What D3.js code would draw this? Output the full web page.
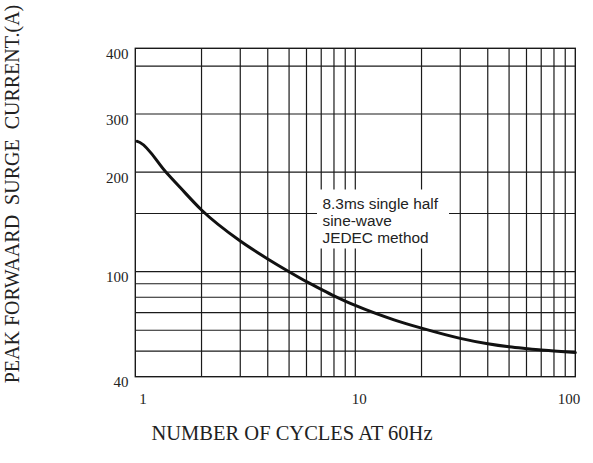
<!DOCTYPE html>
<html>
<head>
<meta charset="utf-8">
<script src="https://cdn.jsdelivr.net/npm/d3@7"></script>
<style>
  body { margin: 0; background: #fff; }
  svg { display: block; }
</style>
</head>
<body>
<div id="chart"></div>
<script>
// Curva de corriente de pico frente a numero de ciclos
const cycles  = [1.02, 1.05, 1.38, 1.6, 2, 3, 4, 5, 6, 7, 8, 9, 10, 15, 20, 30, 40, 50, 60, 70, 80, 100];
const current = [248, 246, 200, 179.7, 153.7, 123.8, 109.3, 100, 91.7, 85.7, 81, 77.4, 74.5, 65.7, 61.1, 55.9, 53.3, 51.9, 51.1, 50.5, 50.1, 49.4];

const xGrid = [2, 3, 4, 5, 6, 7, 8, 9, 10, 20, 30, 40, 50, 60, 70, 80, 90];
const xTicks = ['1', '10', '100'];
const yGrid = [50, 60, 70, 80, 90, 100, 150, 200, 300, 370];
const yTicks = ['400', '300', '200', '100', '40'];
const note = ['8.3ms single half', 'sine-wave', 'JEDEC method'];

const width = 593, height = 463;
const plotLeft = 135.3, plotRight = 575.3, plotTop = 48.3, plotBottom = 376.7;

const svg = d3.select('#chart').append('svg')
  .attr('width', width)
  .attr('height', height);

const x = d3.scaleLog().domain([1, 100]).range([plotLeft, plotRight]);
// la escala vertical de la hoja de datos no es uniforme: log por tramos
const y = d3.scaleLog().domain([40, 100, 300, 400]).range([plotBottom, 271.7, 114, plotTop]);

const grid = svg.append('g')
  .attr('stroke', '#1a1a1a')
  .attr('stroke-width', 1.2);

grid.selectAll('.vline')
  .data(xGrid)
  .enter()
  .append('line')
  .attr('x1', d => x(d)).attr('x2', d => x(d))
  .attr('y1', plotTop).attr('y2', plotBottom);

grid.selectAll('.hline')
  .data(yGrid)
  .enter()
  .append('line')
  .attr('x1', plotLeft).attr('x2', plotRight)
  .attr('y1', d => y(d)).attr('y2', d => y(d));

// marco
svg.append('rect')
  .attr('x', plotLeft).attr('y', plotTop)
  .attr('width', plotRight - plotLeft).attr('height', plotBottom - plotTop)
  .attr('fill', 'none')
  .attr('stroke', '#1a1a1a')
  .attr('stroke-width', 1.4);

// caja de texto que tapa la rejilla
svg.append('rect')
  .attr('x', 317).attr('y', 189.5)
  .attr('width', 132).attr('height', 59)
  .attr('fill', '#fff');

svg.append('g')
  .selectAll('text')
  .data(note)
  .enter()
  .append('text')
  .attr('x', 322.5)
  .attr('y', (d, i) => 209.3 + i * 17)
  .attr('font-family', '"Liberation Sans", Arial, sans-serif')
  .attr('font-size', 15.4)
  .attr('fill', '#222')
  .text(d => d);

// curva
const pts = cycles.map((c, i) => [c, current[i]]);
svg.append('path')
  .datum(pts)
  .attr('fill', 'none')
  .attr('stroke', '#111')
  .attr('stroke-width', 3)
  .attr('stroke-linecap', 'round')
  .attr('d', d3.line()
    .x(d => x(d[0]))
    .y(d => y(d[1]))
    .curve(d3.curveMonotoneX));

// etiquetas de los ejes
const serif = '"Liberation Serif", "Times New Roman", serif';

svg.append('g')
  .selectAll('text')
  .data(yTicks)
  .enter()
  .append('text')
  .attr('x', 128.5)
  .attr('y', d => y(+d) + 10.5)
  .attr('text-anchor', 'end')
  .attr('font-family', serif)
  .attr('font-size', 15)
  .attr('fill', '#222')
  .text(d => d);

const anchors = ['start', 'middle', 'end'];
const dxs = [4, 4, 5];
svg.append('g')
  .selectAll('text')
  .data(xTicks)
  .enter()
  .append('text')
  .attr('x', (d, i) => x(+d) + dxs[i])
  .attr('y', 404)
  .attr('text-anchor', (d, i) => anchors[i])
  .attr('font-family', serif)
  .attr('font-size', 15)
  .attr('fill', '#222')
  .text(d => d);

svg.append('text')
  .attr('x', 292)
  .attr('y', 440)
  .attr('text-anchor', 'middle')
  .attr('font-family', serif)
  .attr('font-size', 20.5)
  .attr('fill', '#222')
  .text('NUMBER OF CYCLES AT 60Hz');

svg.append('text')
  .attr('transform', 'translate(19,194) rotate(-90)')
  .attr('text-anchor', 'middle')
  .attr('font-family', serif)
  .attr('font-size', 20)
  .attr('fill', '#222')
  .style('white-space', 'pre')
  .text('PEAK FORWAARD  SURGE  CURRENT.(A)');
</script>
</body>
</html>
